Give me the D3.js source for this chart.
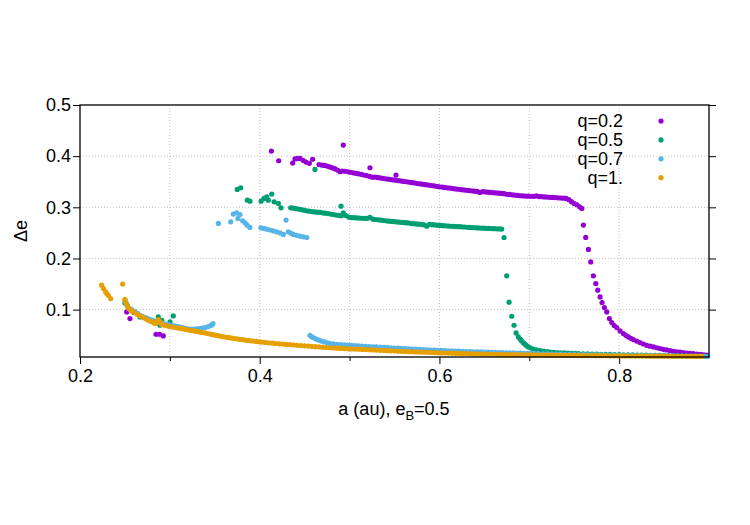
<!DOCTYPE html>
<head>
  <meta charset="utf-8" />
  <script src="https://d3js.org/d3.v7.min.js"></script>
  <style>
    body { margin: 0; background: #fff; }
    svg { font-family: "Liberation Sans", Arial, sans-serif; }
    .grid line { stroke: #c4c4c4; stroke-width: 1; stroke-dasharray: 1,2; }
  </style>
</head>

<body>
  <svg width="750" height="525"></svg>

  <script>
    // [a (au), delta e]
    var q02 = [
      [0.2520,0.0955],[0.2556,0.0826],[0.2846,0.0519],[0.2885,0.0519],[0.2927,0.0485],
      [0.4130,0.4100],[0.4211,0.3910],[0.4367,0.3865],[0.4393,0.3945],[0.4420,0.3955],[0.4449,0.3955],
      [0.4485,0.3915],[0.4515,0.3885],[0.4552,0.3860],[0.4589,0.3940],
      [0.4930,0.4217],[0.5227,0.3773],[0.5517,0.3630],
      [0.466,0.3835],[0.469,0.3826],[0.472,0.3818],[0.475,0.3806],[0.478,0.3790],[0.481,0.3770],
      [0.484,0.3750],[0.487,0.3725],[0.4894,0.3695],[0.492,0.3710],[0.495,0.3705],[0.498,0.3695],
      [0.501,0.3685],[0.504,0.3675],[0.507,0.3665],[0.510,0.3655],[0.513,0.3645],[0.516,0.3632],
      [0.519,0.3620],[0.522,0.3605],[0.525,0.3590],[0.528,0.3592],[0.531,0.3585],[0.534,0.3575],
      [0.537,0.3566],[0.540,0.3558],[0.543,0.3550],[0.546,0.3543],[0.549,0.3535],[0.552,0.3527],
      [0.555,0.3520],[0.558,0.3512],[0.561,0.3505],[0.564,0.3498],[0.567,0.3490],[0.570,0.3482],
      [0.573,0.3474],[0.576,0.3466],[0.579,0.3458],[0.582,0.3450],[0.585,0.3442],[0.588,0.3434],
      [0.591,0.3426],[0.594,0.3418],[0.597,0.3410],[0.600,0.3402],[0.603,0.3395],[0.606,0.3388],
      [0.609,0.3381],[0.612,0.3374],[0.615,0.3367],[0.618,0.3360],[0.621,0.3353],[0.624,0.3347],
      [0.627,0.3340],[0.630,0.3334],[0.633,0.3328],[0.636,0.3322],[0.639,0.3316],[0.642,0.3310],
      [0.645,0.3290],[0.648,0.3305],[0.651,0.3300],[0.654,0.3296],[0.657,0.3292],[0.660,0.3287],
      [0.663,0.3282],[0.666,0.3277],[0.669,0.3272],[0.672,0.3266],[0.675,0.3255],[0.678,0.3252],
      [0.681,0.3245],[0.684,0.3238],[0.687,0.3232],[0.690,0.3226],[0.693,0.3222],[0.696,0.3220],
      [0.699,0.3218],[0.702,0.3216],[0.705,0.3214],[0.708,0.3222],[0.711,0.3210],[0.714,0.3207],
      [0.717,0.3204],[0.720,0.3200],[0.723,0.3196],[0.726,0.3193],[0.729,0.3190],[0.732,0.3186],
      [0.735,0.3182],[0.738,0.3178],[0.741,0.3174],[0.744,0.3150],[0.747,0.3110],[0.750,0.3075],
      [0.753,0.3050],[0.756,0.3010],[0.7584,0.2978],
      [0.7602,0.2652],[0.7628,0.2411],[0.7658,0.2176],[0.7684,0.1933],[0.7713,0.1660],[0.7740,0.1510],
      [0.7762,0.1380],[0.7788,0.1249],[0.7810,0.1139],[0.7836,0.1041],[0.7862,0.0955],[0.7891,0.0826],
      [0.7918,0.0748],[0.7945,0.0690],[0.7973,0.0650],[0.8010,0.0583],[0.8047,0.0532],[0.8075,0.0498],
      [0.8102,0.0466],[0.8130,0.0440],[0.8158,0.0415],[0.8195,0.0385],[0.8232,0.0356],[0.8270,0.0328],
      [0.8307,0.0303],[0.8345,0.0286],[0.8381,0.0270],[0.8420,0.0255],[0.8455,0.0240],[0.8492,0.0225],
      [0.8530,0.0212],[0.8567,0.0199],[0.8603,0.0186],[0.8640,0.0177],[0.8677,0.0168],[0.8714,0.0160],
      [0.8751,0.0152],[0.8788,0.0146],[0.8826,0.0140],[0.8865,0.0133],[0.8905,0.0125],[0.8940,0.0118],
      [0.8975,0.0110]
    ];

    var q05 = [
      [0.2501,0.1131],[0.2527,0.1080],[0.2560,0.1010],[0.2600,0.0940],[0.2668,0.0857],[0.2742,0.0826],
      [0.2871,0.0857],[0.2890,0.0695],[0.2910,0.0790],[0.3002,0.0759],[0.3038,0.0877],
      [0.3750,0.3350],[0.3788,0.3380],[0.3862,0.3140],[0.3892,0.3120],[0.4015,0.3120],[0.4048,0.3174],
      [0.4078,0.3206],[0.4096,0.3140],[0.4134,0.3258],[0.4160,0.3108],[0.4207,0.3076],[0.4237,0.2990],
      [0.4615,0.3740],[0.4905,0.3023],
      [0.4345,0.2990],[0.437,0.2985],[0.440,0.2975],[0.443,0.2965],[0.446,0.2955],[0.449,0.2945],
      [0.452,0.2933],[0.455,0.2925],[0.458,0.2917],[0.461,0.2910],[0.464,0.2905],[0.467,0.2900],
      [0.470,0.2893],[0.473,0.2885],[0.476,0.2877],[0.479,0.2868],[0.482,0.2860],[0.485,0.2850],
      [0.488,0.2842],[0.491,0.2835],[0.493,0.2893],[0.496,0.2840],[0.499,0.2810],[0.502,0.2800],
      [0.505,0.2797],[0.508,0.2793],[0.511,0.2790],[0.514,0.2786],[0.517,0.2782],[0.520,0.2785],
      [0.5227,0.2802],[0.526,0.2768],[0.529,0.2762],[0.532,0.2755],[0.535,0.2748],[0.538,0.2742],
      [0.541,0.2736],[0.544,0.2730],[0.547,0.2725],[0.550,0.2720],[0.553,0.2715],[0.556,0.2710],
      [0.559,0.2705],[0.562,0.2700],[0.565,0.2694],[0.568,0.2688],[0.571,0.2681],[0.574,0.2675],
      [0.577,0.2670],[0.580,0.2665],[0.583,0.2655],[0.586,0.2632],[0.589,0.2668],[0.592,0.2660],
      [0.595,0.2655],[0.598,0.2650],[0.601,0.2646],[0.604,0.2642],[0.607,0.2638],[0.610,0.2634],
      [0.613,0.2630],[0.616,0.2627],[0.619,0.2624],[0.622,0.2621],[0.625,0.2618],[0.628,0.2615],
      [0.631,0.2610],[0.634,0.2607],[0.637,0.2604],[0.640,0.2601],[0.643,0.2598],[0.646,0.2595],
      [0.649,0.2592],[0.652,0.2590],[0.655,0.2588],[0.658,0.2585],[0.661,0.2582],[0.664,0.2580],
      [0.667,0.2577],[0.6693,0.2575],
      [0.6719,0.2410],[0.6749,0.1660],[0.6775,0.1145],[0.6804,0.0871],[0.6830,0.0695],[0.6853,0.0544],
      [0.6878,0.0466],[0.6900,0.0420],[0.6915,0.0388],[0.6935,0.0350],[0.6953,0.0323],[0.6970,0.0295],
      [0.6990,0.0270],[0.7015,0.0250],[0.7045,0.0230],[0.7080,0.0212],[0.7120,0.0199],[0.7160,0.0188],
      [0.7200,0.0178],[0.7231,0.0172],[0.7270,0.0166],[0.7310,0.0161],[0.7350,0.0157],[0.7390,0.0153],
      [0.7430,0.0150],[0.7470,0.0147],[0.7510,0.0144],[0.7550,0.0141],[0.7600,0.0138],[0.7650,0.0135],
      [0.7700,0.0132],[0.7750,0.0130],[0.7800,0.0128],[0.7850,0.0126],[0.7900,0.0124],[0.7950,0.0122],
      [0.8000,0.0120],[0.8050,0.0118],[0.8100,0.0116],[0.8150,0.0114],[0.8200,0.0113],[0.8250,0.0111],
      [0.8300,0.0110],[0.8350,0.0108],[0.8400,0.0107],[0.8450,0.0105],[0.8500,0.0104],[0.8550,0.0102],
      [0.8600,0.0101],[0.8650,0.0100],[0.8700,0.0098],[0.8750,0.0097],[0.8800,0.0096],[0.8850,0.0095],
      [0.8900,0.0094],[0.8950,0.0093]
    ];

    var q07 = [
      [0.2501,0.1180],[0.2515,0.1110],[0.2530,0.1060],[0.2550,0.1020],[0.2580,0.0990],[0.2610,0.0960],
      [0.2640,0.0925],[0.2670,0.0890],[0.2700,0.0865],[0.2730,0.0845],[0.2760,0.0820],[0.2790,0.0798],
      [0.2820,0.0780],[0.2850,0.0765],[0.2880,0.0750],[0.2910,0.0735],[0.2940,0.0722],[0.2970,0.0710],
      [0.3000,0.0698],[0.3030,0.0688],[0.3060,0.0678],[0.3090,0.0668],[0.3120,0.0660],[0.3150,0.0645],
      [0.3180,0.0630],[0.3210,0.0620],[0.3240,0.0618],[0.3270,0.0620],[0.3300,0.0625],[0.3330,0.0630],
      [0.3360,0.0638],[0.3390,0.0650],[0.3420,0.0665],[0.3450,0.0685],[0.3470,0.0705],[0.3480,0.0728],
      [0.3540,0.2685],[0.3677,0.2717],[0.3706,0.2867],[0.3744,0.2893],[0.3758,0.2783],[0.3780,0.2860],
      [0.3810,0.2737],[0.3836,0.2697],[0.3860,0.2650],[0.3890,0.2607],[0.4014,0.2600],[0.4046,0.2587],
      [0.4078,0.2573],[0.4114,0.2557],[0.4150,0.2540],[0.4188,0.2520],[0.4226,0.2500],[0.4263,0.2470],
      [0.4293,0.2750],[0.4318,0.2520],[0.4346,0.2495],[0.4374,0.2470],[0.4410,0.2453],[0.4449,0.2436],
      [0.4486,0.2423],[0.4523,0.2410],
      [0.4560,0.0499],[0.4575,0.0475],[0.4590,0.0458],[0.4610,0.0440],[0.4634,0.0420],[0.4660,0.0402],
      [0.4690,0.0385],[0.4720,0.0368],[0.4750,0.0352],[0.4780,0.0340],[0.4820,0.0330],[0.4860,0.0322],
      [0.4900,0.0316],[0.4940,0.0311],[0.4980,0.0306],[0.5020,0.0302],[0.5060,0.0297],[0.5100,0.0292],
      [0.5140,0.0288],[0.5180,0.0283],[0.5220,0.0279],[0.5260,0.0274],[0.5300,0.0270],[0.5340,0.0266],
      [0.5380,0.0262],[0.5420,0.0258],[0.5460,0.0254],[0.5500,0.0250],[0.5540,0.0246],[0.5580,0.0242],
      [0.5620,0.0238],[0.5660,0.0234],[0.5700,0.0230],[0.5740,0.0226],[0.5780,0.0222],[0.5820,0.0218],
      [0.5860,0.0214],[0.5900,0.0211],[0.5940,0.0208],[0.5980,0.0205],[0.6020,0.0202],[0.6060,0.0199],
      [0.6100,0.0196],[0.6140,0.0193],[0.6180,0.0190],[0.6220,0.0187],[0.6260,0.0185],[0.6300,0.0182],
      [0.6340,0.0180],[0.6380,0.0177],[0.6420,0.0175],[0.6460,0.0173],[0.6500,0.0171],[0.6540,0.0169],
      [0.6580,0.0167],[0.6620,0.0164],[0.6660,0.0162],[0.6700,0.0160],[0.6740,0.0157],[0.6780,0.0155],
      [0.6820,0.0153],[0.6860,0.0151],[0.6900,0.0149],[0.6940,0.0147],[0.6980,0.0145],[0.7020,0.0143],
      [0.7060,0.0141],[0.7100,0.0139],[0.7150,0.0137],[0.7200,0.0135],[0.7250,0.0133],[0.7300,0.0131],
      [0.7350,0.0129],[0.7400,0.0127],[0.7450,0.0126],[0.7500,0.0124],[0.7550,0.0122],[0.7600,0.0120],
      [0.7650,0.0119],[0.7700,0.0117],[0.7750,0.0116],[0.7800,0.0114],[0.7850,0.0113],[0.7900,0.0111],
      [0.7950,0.0110],[0.8000,0.0108],[0.8050,0.0107],[0.8100,0.0106],[0.8150,0.0104],[0.8200,0.0103],
      [0.8250,0.0102],[0.8300,0.0100],[0.8350,0.0099],[0.8400,0.0098],[0.8450,0.0097],[0.8500,0.0095],
      [0.8550,0.0094],[0.8600,0.0093],[0.8650,0.0092],[0.8700,0.0090],[0.8750,0.0089],[0.8800,0.0088],
      [0.8850,0.0087],[0.8900,0.0086],[0.8950,0.0084],[0.8985,0.0082]
    ];

    var q10 = [
      [0.2241,0.1478],[0.2263,0.1410],[0.2286,0.1347],[0.2300,0.1310],[0.2315,0.1280],[0.2341,0.1217],
      [0.2475,0.1500],
      [0.2500,0.1200],[0.2515,0.1130],[0.2527,0.1070],[0.2540,0.1030],[0.2556,0.1000],[0.2580,0.0970],
      [0.2610,0.0940],[0.2640,0.0905],[0.2670,0.0875],[0.2700,0.0850],[0.2730,0.0820],[0.2760,0.0792],
      [0.2790,0.0768],[0.2820,0.0745],[0.2840,0.0730],[0.2855,0.0775],[0.2870,0.0806],[0.2890,0.0760],
      [0.2910,0.0710],[0.2940,0.0697],[0.2970,0.0683],[0.3000,0.0670],[0.3030,0.0660],[0.3060,0.0651],
      [0.3090,0.0641],[0.3120,0.0632],[0.3150,0.0622],[0.3180,0.0612],[0.3210,0.0602],[0.3240,0.0593],
      [0.3270,0.0583],[0.3300,0.0573],[0.3330,0.0563],[0.3360,0.0553],[0.3390,0.0544],[0.3420,0.0533],
      [0.3450,0.0522],[0.3480,0.0511],[0.3510,0.0500],[0.3540,0.0490],[0.3570,0.0479],[0.3600,0.0470],
      [0.3630,0.0460],[0.3660,0.0451],[0.3690,0.0443],[0.3720,0.0435],[0.3750,0.0427],[0.3780,0.0419],
      [0.3810,0.0412],[0.3840,0.0405],[0.3870,0.0398],[0.3900,0.0391],[0.3930,0.0385],[0.3960,0.0378],
      [0.3990,0.0372],[0.4020,0.0366],[0.4060,0.0358],[0.4100,0.0351],[0.4140,0.0344],[0.4180,0.0338],
      [0.4220,0.0332],[0.4260,0.0326],[0.4300,0.0320],[0.4340,0.0314],[0.4380,0.0309],[0.4420,0.0303],
      [0.4460,0.0298],[0.4500,0.0292],[0.4540,0.0287],[0.4580,0.0281],[0.4620,0.0276],[0.4660,0.0270],
      [0.4700,0.0265],[0.4740,0.0260],[0.4780,0.0255],[0.4820,0.0250],[0.4860,0.0246],[0.4900,0.0242],
      [0.4940,0.0238],[0.4980,0.0235],[0.5020,0.0232],[0.5060,0.0229],[0.5100,0.0226],[0.5140,0.0223],
      [0.5180,0.0219],[0.5220,0.0216],[0.5260,0.0212],[0.5300,0.0209],[0.5340,0.0205],[0.5380,0.0202],
      [0.5420,0.0198],[0.5460,0.0195],[0.5500,0.0191],[0.5540,0.0188],[0.5580,0.0185],[0.5620,0.0182],
      [0.5660,0.0179],[0.5700,0.0177],[0.5740,0.0174],[0.5780,0.0171],[0.5820,0.0168],[0.5860,0.0165],
      [0.5900,0.0162],[0.5940,0.0160],[0.5980,0.0157],[0.6020,0.0154],[0.6060,0.0152],[0.6100,0.0150],
      [0.6140,0.0148],[0.6180,0.0146],[0.6220,0.0144],[0.6260,0.0142],[0.6300,0.0140],[0.6340,0.0138],
      [0.6380,0.0136],[0.6420,0.0134],[0.6460,0.0132],[0.6500,0.0130],[0.6540,0.0128],[0.6580,0.0127],
      [0.6620,0.0126],[0.6660,0.0125],[0.6700,0.0123],[0.6740,0.0122],[0.6780,0.0121],[0.6820,0.0120],
      [0.6860,0.0119],[0.6900,0.0118],[0.6940,0.0117],[0.6980,0.0116],[0.7020,0.0115],[0.7060,0.0114],
      [0.7100,0.0113],[0.7140,0.0112],[0.7180,0.0111],[0.7220,0.0110],[0.7260,0.0110],[0.7300,0.0109],
      [0.7340,0.0108],[0.7380,0.0107],[0.7420,0.0106],[0.7460,0.0106],[0.7500,0.0105],[0.7540,0.0104],
      [0.7580,0.0103],[0.7620,0.0103],[0.7660,0.0102],[0.7700,0.0101],[0.7740,0.0100],[0.7780,0.0100],
      [0.7820,0.0099],[0.7860,0.0098],[0.7900,0.0097],[0.7940,0.0097],[0.7980,0.0096],[0.8020,0.0095],
      [0.8060,0.0095],[0.8100,0.0094],[0.8140,0.0094],[0.8180,0.0093],[0.8220,0.0093],[0.8260,0.0092],
      [0.8300,0.0092],[0.8340,0.0091],[0.8380,0.0091],[0.8420,0.0090],[0.8460,0.0090],[0.8500,0.0090],
      [0.8540,0.0089],[0.8580,0.0089],[0.8620,0.0088],[0.8660,0.0088],[0.8700,0.0088],[0.8740,0.0087],
      [0.8780,0.0087],[0.8820,0.0086],[0.8860,0.0086],[0.8900,0.0086],[0.8920,0.0085]
    ];

    var seriesData = [q02, q05, q07, q10];
    var seriesLabels = ["q=0.2", "q=0.5", "q=0.7", "q=1."];
    var seriesColors = ["#9400d3", "#009e73", "#56b4e9", "#e69f00"];
    var xTicks = [0.2, 0.4, 0.6, 0.8];
    var xMinorTicks = [0.3, 0.5, 0.7];
    var xGrid = [0.3, 0.4, 0.5, 0.6, 0.7, 0.8];
    var yTicks = [0.1, 0.2, 0.3, 0.4, 0.5];
    var yGrid = [0.1, 0.2, 0.3, 0.4];

    var margin = { top: 105, right: 41, bottom: 168, left: 80 };
    var width = 750 - margin.left - margin.right;
    var height = 525 - margin.top - margin.bottom;

    var svg = d3.select("svg");
    var g = svg.append("g")
      .attr("transform", "translate(" + margin.left + "," + margin.top + ")");

    var x = d3.scaleLinear().domain([0.2, 0.9]).range([0, width]);
    var y = d3.scaleLinear().domain([0.0074, 0.5]).range([height, 0]);

    // dotted grid
    var grid = g.append("g").attr("class", "grid");
    grid.selectAll(".gx").data(xGrid).enter().append("line")
      .attr("x1", function (d) { return x(d); })
      .attr("x2", function (d) { return x(d); })
      .attr("y1", 0).attr("y2", height);
    grid.selectAll(".gy").data(yGrid).enter().append("line")
      .attr("x1", 0).attr("x2", width)
      .attr("y1", function (d) { return y(d); })
      .attr("y2", function (d) { return y(d); });

    // axes
    var xAxis = g.append("g")
      .attr("transform", "translate(0," + height + ")")
      .call(d3.axisBottom(x).tickValues(xTicks).tickSize(7).tickPadding(5).tickFormat(d3.format(".1f")));
    var xMinor = g.append("g")
      .attr("transform", "translate(0," + height + ")")
      .call(d3.axisBottom(x).tickValues(xMinorTicks).tickSize(4).tickFormat(""));
    var yAxis = g.append("g")
      .call(d3.axisLeft(y).tickValues(yTicks).tickSize(7).tickPadding(2).tickFormat(d3.format(".1f")));
    var yRight = g.append("g")
      .attr("transform", "translate(" + width + ",0)")
      .call(d3.axisRight(y).tickValues(yTicks).tickSize(7).tickFormat(""));

    [xAxis, xMinor, yAxis, yRight].forEach(function (a) {
      a.select(".domain").remove();
      a.selectAll("line").attr("stroke", "#000").attr("stroke-width", 1);
      a.selectAll("text").attr("font-size", 18).attr("fill", "#000")
        .attr("font-family", "Liberation Sans, Arial, sans-serif");
    });

    // points, drawn in series order so q=1. ends up on top
    seriesData.forEach(function (data, i) {
      g.append("g").selectAll("circle")
        .data(data)
        .enter()
        .append("circle")
        .attr("cx", function (d) { return x(d[0]); })
        .attr("cy", function (d) { return y(d[1]); })
        .attr("r", 2.6)
        .attr("fill", seriesColors[i]);
    });

    // frame
    g.append("rect")
      .attr("width", width).attr("height", height)
      .attr("fill", "none").attr("stroke", "#000").attr("stroke-width", 1.3);

    // legend
    var legend = g.append("g")
      .attr("transform", "translate(" + (623 - margin.left) + "," + (121 - margin.top) + ")");
    seriesLabels.forEach(function (label, i) {
      legend.append("text")
        .attr("x", 0).attr("y", i * 18.9)
        .attr("dy", "0.35em")
        .attr("text-anchor", "end")
        .attr("font-size", 18)
        .text(label);
      legend.append("circle")
        .attr("cx", 38).attr("cy", i * 18.9)
        .attr("r", 2.6)
        .attr("fill", seriesColors[i]);
    });

    // axis titles
    var xTitle = svg.append("text")
      .attr("x", 394).attr("y", 415)
      .attr("text-anchor", "middle")
      .attr("font-size", 18);
    xTitle.append("tspan").text("a (au), e");
    xTitle.append("tspan").attr("dy", 5).attr("font-size", 13).text("B");
    xTitle.append("tspan").attr("dy", -5).text("=0.5");

    svg.append("text")
      .attr("transform", "translate(27,231) rotate(-90)")
      .attr("text-anchor", "middle")
      .attr("font-size", 18)
      .text("\u0394e");
  </script>
</body>
